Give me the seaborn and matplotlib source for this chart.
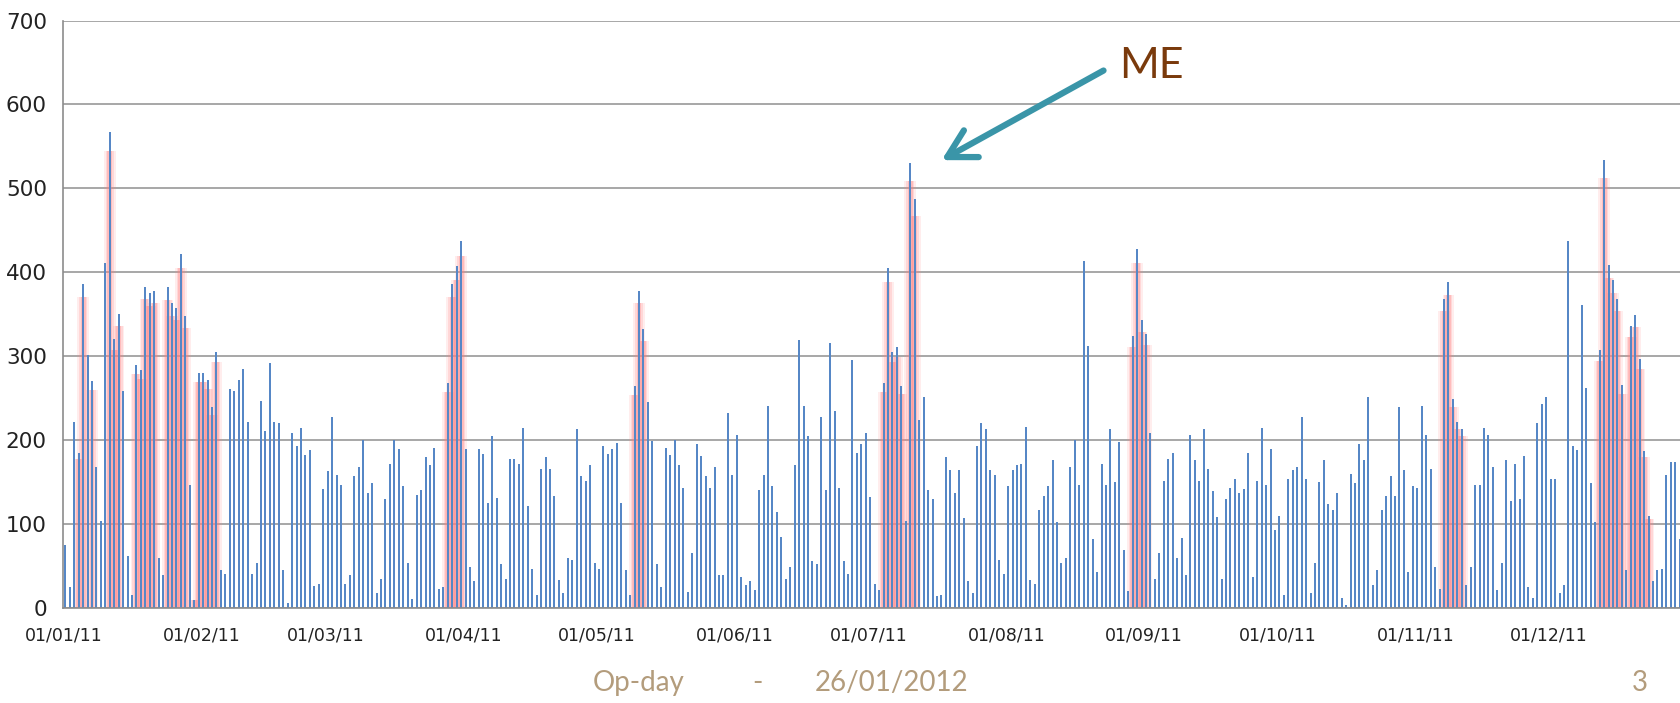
import matplotlib.pyplot as plt
import numpy as np
import pandas as pd
import seaborn as sns

# valeurs journalières 2011
jan = [75, 25, 222, 185, 386, 301, 270, 168, 104, 411, 567, 320, 350, 259, 62, 15,
       290, 284, 383, 375, 378, 60, 39, 382, 363, 357, 422, 348, 147, 10, 280]
feb = [280, 272, 239, 305, 45, 41, 261, 259, 272, 285, 222, 41, 54, 247, 211, 292,
       222, 220, 45, 6, 209, 193, 215, 182, 188, 26, 29, 142]
mar = [163, 228, 159, 146, 29, 39, 157, 168, 200, 137, 149, 18, 35, 130, 171, 200,
       189, 145, 54, 11, 135, 141, 180, 170, 191, 23, 25, 268, 386, 407, 437]
apr = [189, 49, 32, 189, 183, 125, 205, 131, 52, 35, 178, 177, 172, 215, 121, 47,
       16, 166, 180, 166, 133, 33, 18, 60, 57, 213, 157, 151, 170, 54]
may = [47, 193, 184, 189, 197, 125, 45, 16, 264, 378, 332, 245, 199, 52, 25, 191,
       182, 200, 170, 143, 19, 66, 195, 181, 157, 143, 168, 39, 39, 232, 159]
jun = [206, 37, 28, 32, 22, 141, 159, 241, 145, 114, 85, 35, 49, 170, 319, 241,
       205, 56, 52, 228, 141, 316, 235, 143, 56, 41, 295, 185, 195, 209]
jul = [132, 29, 22, 268, 405, 305, 311, 265, 104, 530, 487, 224, 251, 141, 130, 14,
       16, 180, 165, 137, 164, 107, 32, 18, 193, 220, 213, 164, 159, 57, 41]
aug = [145, 164, 170, 172, 216, 33, 29, 117, 133, 145, 176, 103, 54, 60, 168, 200,
       147, 413, 312, 82, 43, 171, 147, 213, 150, 198, 69, 20, 324, 428, 343]
sep = [326, 209, 35, 66, 151, 178, 185, 60, 83, 39, 206, 176, 151, 213, 166, 139,
       108, 35, 130, 143, 154, 137, 142, 185, 37, 151, 215, 147, 189, 93]
oct_ = [110, 16, 154, 164, 168, 228, 154, 18, 54, 150, 176, 124, 117, 137, 12, 4,
        160, 149, 195, 176, 251, 28, 45, 117, 133, 157, 133, 239, 164, 43, 145]
nov = [143, 241, 206, 166, 49, 23, 368, 389, 249, 222, 213, 28, 49, 147, 147, 215,
       206, 168, 22, 54, 176, 128, 172, 130, 181, 25, 12, 220, 243, 251]
dec = [154, 154, 18, 28, 437, 193, 188, 361, 262, 149, 103, 307, 534, 409, 391, 368,
       266, 45, 336, 349, 297, 187, 110, 32, 45, 47, 159, 174, 174, 82]

# jours marqués (halo rose)
me_dates = (
    ['2011-01-%02d' % d for d in [4, 5, 7, 11, 12, 13, 17, 18, 19, 20, 21, 24, 25, 26, 27, 28, 30, 31]]
    + ['2011-02-%02d' % d for d in [1, 2, 3, 4]]
    + ['2011-03-%02d' % d for d in [28, 29, 30, 31]]
    + ['2011-05-%02d' % d for d in [9, 10, 11]]
    + ['2011-07-%02d' % d for d in [4, 5, 6, 7, 8, 10, 11]]
    + ['2011-08-%02d' % d for d in [29, 30, 31]] + ['2011-09-01']
    + ['2011-11-%02d' % d for d in [7, 8, 9, 10, 11]]
    + ['2011-12-%02d' % d for d in [12, 13, 14, 15, 16, 17, 19, 20, 21, 22, 23]]
)

values = jan + feb + mar + apr + may + jun + jul + aug + sep + oct_ + nov + dec
dates = pd.date_range('2011-01-01', periods=len(values), freq='D')
df = pd.DataFrame({'day': np.arange(len(values)), 'value': values})
df['me'] = dates.isin(pd.to_datetime(me_dates))
df['glow'] = df['value'].where(df['me'], 0) * 0.96

month_starts = pd.date_range('2011-01-01', '2011-12-01', freq='MS')
month_idx = [(m - dates[0]).days for m in month_starts]
month_labels = [m.strftime('%d/%m/%y') for m in month_starts]

sns.set_style('white')
plt.rcParams['font.family'] = ['DejaVu Sans']

fig = plt.figure(figsize=(16.81, 7.03), dpi=100)
ax = fig.add_axes([63.5 / 1681, 1 - 608 / 703, 1 - 63.5 / 1681, (608 - 20.5) / 703])

# halo rose autour des jours marqués
for w, a in [(2.6, 0.14), (1.8, 0.2), (1.1, 0.3)]:
    sns.barplot(data=df, x='day', y='glow', native_scale=True, width=w,
                color='#ff8080', saturation=1, alpha=a, errorbar=None,
                linewidth=0, edgecolor='none', ax=ax)

sns.barplot(data=df, x='day', y='value', native_scale=True, width=0.45,
            color='#5687c6', saturation=1, errorbar=None,
            linewidth=0, edgecolor='none', ax=ax)

ax.set_xlim(-0.35, 363.3)
ax.set_ylim(0, 700)
ax.set_yticks(range(0, 701, 100))
ax.set_xticks(np.array(month_idx) - 0.4)
ax.set_xticklabels(month_labels)
ax.set_xlabel('')
ax.set_ylabel('')
ax.yaxis.grid(True, color='#a0a0a0', lw=1.3)
ax.set_axisbelow(True)
for s in ['top', 'right']:
    ax.spines[s].set_visible(False)
for s in ['left', 'bottom']:
    ax.spines[s].set_color('#8c8c8c')
    ax.spines[s].set_linewidth(1.2)
ax.tick_params(axis='both', colors='#8c8c8c', labelcolor='#222222',
               length=5, width=1.2, direction='out')
ax.tick_params(axis='y', labelsize=15.5, pad=7)
ax.tick_params(axis='x', labelsize=12.5, pad=8)

# annotation ME
ax.annotate('', xy=(196.5, 532), xytext=(234, 642),
            arrowprops=dict(arrowstyle='->,head_length=0.9,head_width=0.5',
                            lw=4.5, color='#3a95a8', mutation_scale=22))
ax.text(237, 646, 'ME', fontsize=31, color='#7a3a0c', family='Lato',
        ha='left', va='center')

# pied de page
foot = '#b39c7c'
fig.text(593 / 1681, 1 - 683 / 703, 'Op-day', fontsize=20, color=foot,
         family='Lato', ha='left', va='center')
fig.text(757 / 1681, 1 - 683 / 703, '-', fontsize=20, color=foot,
         family='Lato', ha='center', va='center')
fig.text(815 / 1681, 1 - 683 / 703, '26/01/2012', fontsize=20, color=foot,
         family='Lato', ha='left', va='center')
fig.text(1640 / 1681, 1 - 683 / 703, '3', fontsize=20, color=foot,
         family='Lato', ha='center', va='center')

fig.savefig('out.png', dpi=100)
